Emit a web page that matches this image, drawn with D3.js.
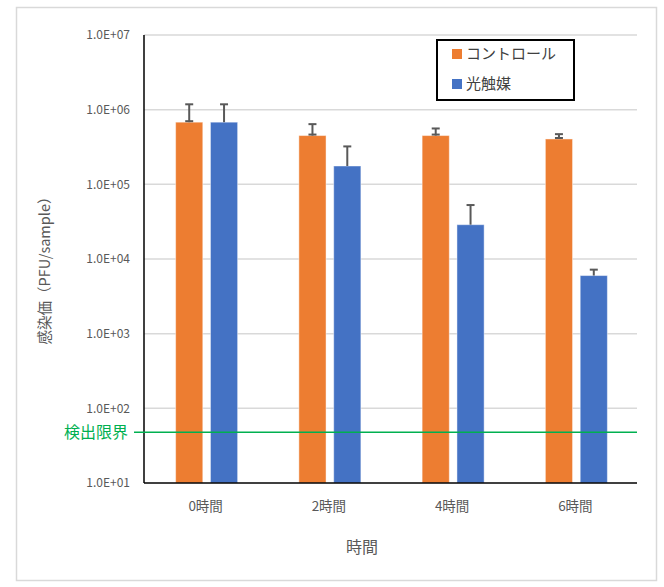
<!DOCTYPE html>
<html><head><meta charset="utf-8">
<script src="https://cdn.jsdelivr.net/npm/d3@7"></script>
<style>body{margin:0;background:#fff}svg{display:block}</style>
</head><body>
<svg id="c" width="664" height="587"></svg>
<script>
const categories = ["0時間","2時間","4時間","6時間"];
const seriesNames = ["コントロール","光触媒"];
const controlValues = [680000, 450000, 450000, 405000];
const controlErrors = [500000, 190000, 110000, 65000];
const photoValues = [680000, 176000, 28800, 6000];
const photoErrors = [500000, 146000, 24000, 1200];
const yTicks = [1e1,1e2,1e3,1e4,1e5,1e6,1e7];
const yTickLabels = ["1.0E+01","1.0E+02","1.0E+03","1.0E+04","1.0E+05","1.0E+06","1.0E+07"];
const detectionLimit = 48;
const detectionLabel = "検出限界";
const xTitle = "時間";
const yTitle = "感染価（PFU/sample）";

const colors = ["#ED7D31", "#4472C4"];
const font = "'Noto Sans CJK JP', 'Noto Sans', sans-serif";
const svg = d3.select("#c");
const L = 144, R = 637, T = 35, B = 483;

// outer border
svg.append("rect").attr("x",16.5).attr("y",7.5).attr("width",640).attr("height",573)
  .attr("fill","none").attr("stroke","#D9D9D9").attr("stroke-width",1.5);

const y = d3.scaleLog().domain([10, 1e7]).range([B, T]);
const x0 = d3.scaleBand().domain(categories).range([L, R]).padding(0);
const x1 = d3.scaleBand().domain(seriesNames).range([-30, 32]).paddingInner(0.22);

// gridlines
svg.append("g").selectAll("line").data(yTicks.slice(1)).join("line")
  .attr("x1", L).attr("x2", R).attr("y1", d=>y(d)).attr("y2", d=>y(d))
  .attr("stroke","#D9D9D9").attr("stroke-width",1.5);

// y axis labels
const yAxis = d3.axisLeft(y).tickValues(yTicks).tickFormat((d,i)=>yTickLabels[i]).tickSize(0).tickPadding(14);
const gy = svg.append("g").attr("transform",`translate(${L},0)`).call(yAxis);
gy.select(".domain").remove();
gy.selectAll("text").attr("font-family",font).attr("font-size",12).attr("fill","#595959");

const series = [
  {name: seriesNames[0], values: controlValues, errors: controlErrors, color: colors[0], lowerCap: true},
  {name: seriesNames[1], values: photoValues, errors: photoErrors, color: colors[1], lowerCap: false}
];

// bars
series.forEach(s => {
  const g = svg.append("g");
  g.selectAll("rect").data(categories).join("rect")
    .attr("x", (c)=> x0(c) + x0.bandwidth()/2 + x1(s.name))
    .attr("width", x1.bandwidth())
    .attr("y", (c,i)=> y(s.values[i]))
    .attr("height", (c,i)=> B - y(s.values[i]))
    .attr("fill", s.color)
    .attr("stroke", "rgba(255,255,255,0.45)").attr("stroke-width",1);
});

// error bars
series.forEach(s => {
  const g = svg.append("g").attr("stroke","#595959").attr("stroke-width",2);
  categories.forEach((c,i) => {
    const cx = x0(c) + x0.bandwidth()/2 + x1(s.name) + x1.bandwidth()/2;
    const yt = y(s.values[i] + s.errors[i]), yb = y(s.values[i]);
    g.append("line").attr("x1",cx).attr("x2",cx).attr("y1",yt).attr("y2",yb);
    g.append("line").attr("x1",cx-4).attr("x2",cx+4).attr("y1",yt).attr("y2",yt);
    if (s.lowerCap) g.append("line").attr("x1",cx-4).attr("x2",cx+4).attr("y1",yb-1).attr("y2",yb-1);
  });
});

// axes lines
svg.append("line").attr("x1",L).attr("x2",L).attr("y1",T).attr("y2",B).attr("stroke","#000").attr("stroke-width",1.5);
svg.append("line").attr("x1",L).attr("x2",R).attr("y1",B).attr("y2",B).attr("stroke","#000").attr("stroke-width",1.5);

// x axis labels
const xAxis = d3.axisBottom(x0).tickSize(0).tickPadding(18);
const gx = svg.append("g").attr("transform",`translate(0,${B})`).call(xAxis);
gx.select(".domain").remove();
gx.selectAll("text").attr("font-family",font).attr("font-size",13.5).attr("fill","#595959");

// detection limit
svg.append("line").attr("x1",134).attr("x2",R).attr("y1",y(detectionLimit)).attr("y2",y(detectionLimit))
  .attr("stroke","#00B050").attr("stroke-width",1.5);
svg.append("text").attr("x",128).attr("y",y(detectionLimit)).attr("dy","0.35em")
  .attr("text-anchor","end").attr("font-family",font).attr("font-size",16).attr("fill","#00B050")
  .text(detectionLabel);

// titles
svg.append("text").attr("x",362).attr("y",547).attr("dy","0.35em").attr("text-anchor","middle")
  .attr("font-family",font).attr("font-size",16).attr("fill","#595959").text(xTitle);
svg.append("text").attr("transform","translate(45,267) rotate(-90)").attr("dy","0.35em")
  .attr("text-anchor","middle").attr("font-family",font).attr("font-size",14.5).attr("fill","#595959").text(yTitle);

// legend
svg.append("rect").attr("x",437).attr("y",40).attr("width",137).attr("height",60)
  .attr("fill","#fff").attr("stroke","#000").attr("stroke-width",2);
series.forEach((s,i) => {
  const cy = 54 + i*30;
  svg.append("rect").attr("x",452).attr("y",cy-5).attr("width",10).attr("height",10).attr("fill",s.color);
  svg.append("text").attr("x",466).attr("y",cy).attr("dy","0.35em").attr("font-family",font)
    .attr("font-size",15).attr("fill","#404040").text(s.name);
});
</script>
</body></html>
